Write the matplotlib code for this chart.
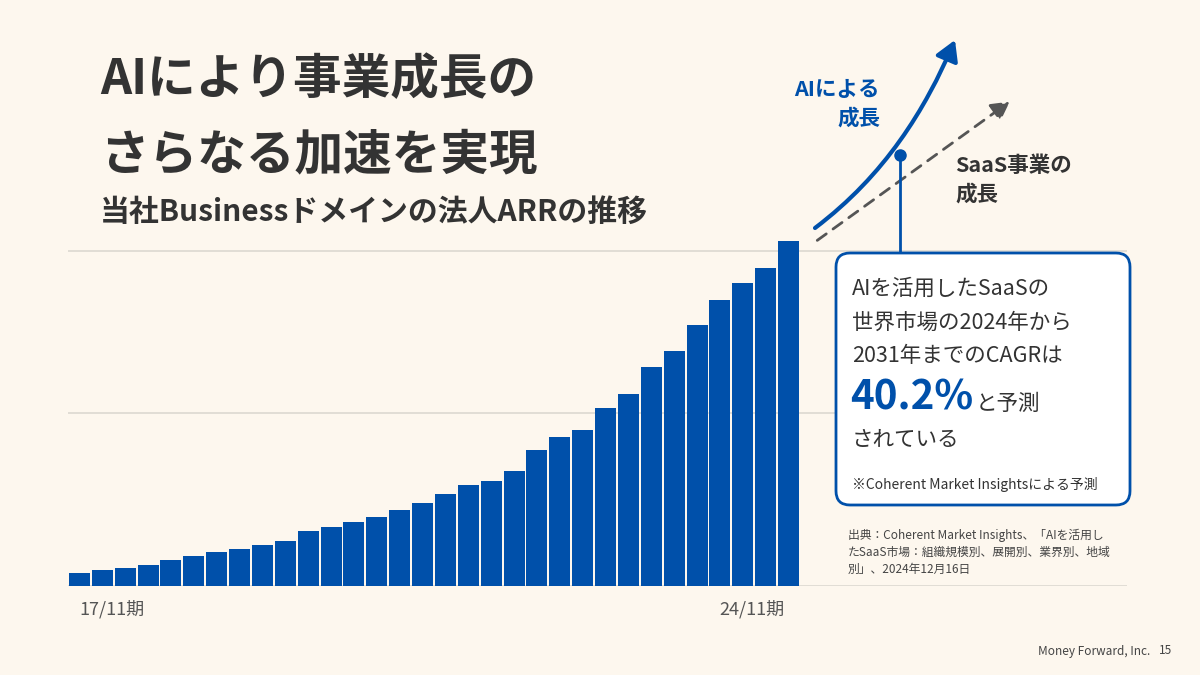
import matplotlib
matplotlib.use("Agg")
import matplotlib.pyplot as plt
from matplotlib.patches import FancyBboxPatch, FancyArrowPatch
from matplotlib.path import Path

plt.rcParams['font.family'] = ['Noto Sans CJK JP', 'DejaVu Sans']

values = [12.7, 16, 18.3, 21, 26.3, 29.7, 33.7, 36.7, 41.3, 44.7, 54.7, 58.7, 64, 69.3, 75.7,
          83.3, 92.3, 101.3, 105, 114.7, 136, 148.7, 156.3, 178.3, 192, 219.3, 234.7, 261,
          285.7, 303.3, 318.3, 345]
tick_pos = [1, 29]
tick_labels = ["17/11期", "24/11期"]
grid_vals = [173, 335]

BG = "#fdf7ee"
BLUE = "#0050aa"
DARK = "#333333"

fig = plt.figure(figsize=(12, 6.75), dpi=100, facecolor=BG)
W, H = 1200, 675

ax = fig.add_axes([68 / W, 1 - 586 / H, (1127 - 68) / W, (586 - 230) / H])
ax.set_facecolor("none")
n = len(values)
bw = 732 / n
units = (1127 - 68) / bw
ax.set_xlim(-0.5, -0.5 + units)
ax.set_ylim(0, 356)
for g in grid_vals:
    ax.axhline(g, color="#dcd8d0", lw=1.2, zorder=0)
ax.axhline(0, color="#dcd8d0", lw=1.2, zorder=0)
ax.bar(range(n), values, width=0.92, color=BLUE, zorder=2)
ax.set_xticks([p + 0.4 for p in tick_pos])
ax.set_xticklabels(tick_labels, fontsize=13, color="#555555")
ax.tick_params(length=0, pad=10)
ax.set_yticks([])
for s in ax.spines.values():
    s.set_visible(False)

ov = fig.add_axes([0, 0, 1, 1])
ov.set_xlim(0, W)
ov.set_ylim(H, 0)
ov.axis("off")
ov.patch.set_alpha(0)

ov.text(100, 80, "AIにより事業成長の", fontsize=35, fontweight="bold", color=DARK, va="center")
ov.text(100, 155, "さらなる加速を実現", fontsize=35, fontweight="bold", color=DARK, va="center")
ov.text(100, 212, "当社Businessドメインの法人ARRの推移", fontsize=21.5, fontweight="bold", color=DARK, va="center")

verts = [(815, 228), (885, 175), (925, 110), (955, 40)]
path = Path(verts, [Path.MOVETO, Path.CURVE4, Path.CURVE4, Path.CURVE4])
ov.add_patch(FancyArrowPatch(path=path, arrowstyle="-|>,head_length=12,head_width=7",
                             color=BLUE, lw=3, mutation_scale=1))
ov.add_patch(FancyArrowPatch((815, 242), (1012, 100), arrowstyle="-|>,head_length=11,head_width=6",
                             color="#555555", lw=2, linestyle=(0, (4, 3)), mutation_scale=1))
ov.text(880, 90, "AIによる", fontsize=15.5, fontweight="bold", color=BLUE, ha="right", va="center")
ov.text(880, 118, "成長", fontsize=15.5, fontweight="bold", color=BLUE, ha="right", va="center")
ov.text(955, 166, "SaaS事業の", fontsize=15.5, fontweight="bold", color=DARK, ha="left", va="center")
ov.text(955, 194, "成長", fontsize=15.5, fontweight="bold", color=DARK, ha="left", va="center")

ov.plot([900, 900], [155, 252], color=BLUE, lw=2)
ov.plot([900], [155], "o", color=BLUE, ms=8)

ov.add_patch(FancyBboxPatch((836, 253), 294, 252, boxstyle="round,pad=0,rounding_size=14",
                            fc="white", ec=BLUE, lw=2))
ov.text(852, 289, "AIを活用したSaaSの", fontsize=15.5, color=DARK, va="center")
ov.text(852, 323, "世界市場の2024年から", fontsize=15.5, color=DARK, va="center")
ov.text(852, 356, "2031年までのCAGRは", fontsize=15.5, color=DARK, va="center")
ov.text(850, 398, "40.2%", fontsize=29, fontweight="bold", color=BLUE, va="center")
ov.text(976, 404, "と予測", fontsize=15.5, color=DARK, va="center")
ov.text(852, 440, "されている", fontsize=15.5, color=DARK, va="center")
ov.text(852, 484, "※Coherent Market Insightsによる予測", fontsize=10, color=DARK, va="center")

ov.text(848, 535, "出典：Coherent Market Insights、「AIを活用し", fontsize=8.5, color="#444444", va="center")
ov.text(848, 552, "たSaaS市場：組織規模別、展開別、業界別、地域", fontsize=8.5, color="#444444", va="center")
ov.text(848, 569, "別」、2024年12月16日", fontsize=8.5, color="#444444", va="center")

ov.text(1150, 651, "Money Forward, Inc.", fontsize=8.5, color="#444444", ha="right", va="center")
ov.text(1172, 651, "15", fontsize=8.5, color="#444444", ha="right", va="center")

fig.savefig("out.png", dpi=100, facecolor=BG)
